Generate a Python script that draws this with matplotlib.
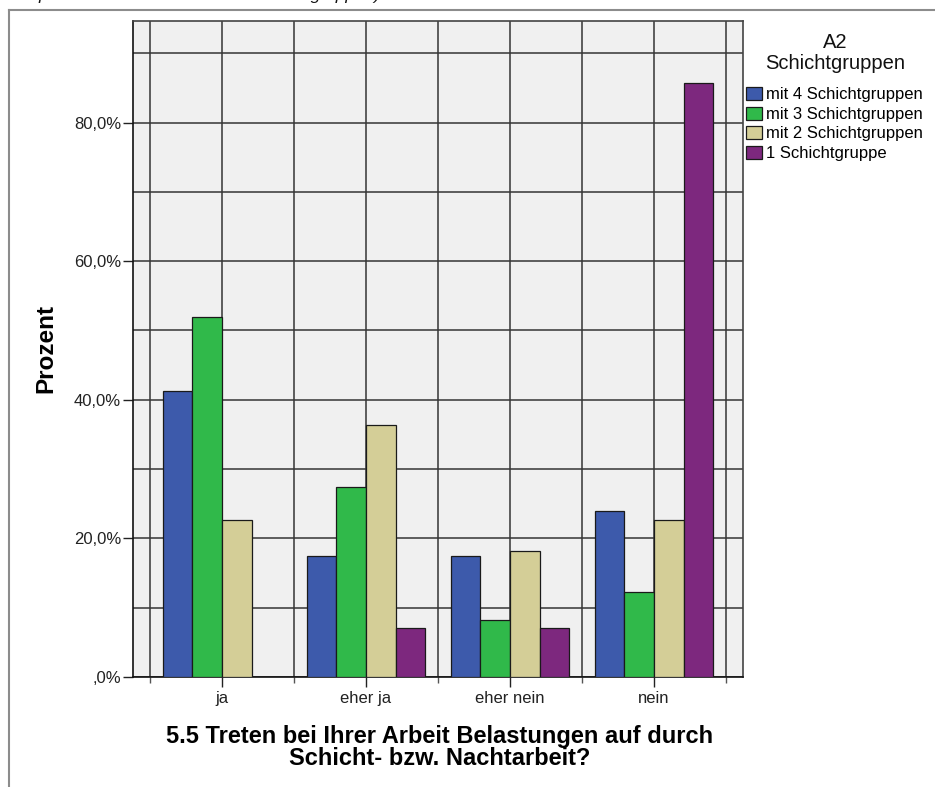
import matplotlib
matplotlib.use("Agg")
import matplotlib.pyplot as plt
from matplotlib.lines import Line2D
from matplotlib.patches import Patch
from matplotlib.ticker import FixedLocator, FuncFormatter
import numpy as np

plt.rcParams['font.family'] = ['Liberation Sans', 'DejaVu Sans']

# data (percent within each shift group)
categories = ["ja", "eher ja", "eher nein", "nein"]
groups = ["mit 4 Schichtgruppen", "mit 3 Schichtgruppen", "mit 2 Schichtgruppen", "1 Schichtgruppe"]
mit4 = [41.3, 17.4, 17.4, 23.9]
mit3 = [52.0, 27.4, 8.2, 12.3]
mit2 = [22.7, 36.4, 18.2, 22.7]
eine = [0.0, 7.1, 7.1, 85.7]
colors = ["#3d5aab", "#30b94a", "#d4ce97", "#7d287e"]

W, H = 935, 787
fig = plt.figure(figsize=(W / 100, H / 100), dpi=100)
fig.patch.set_facecolor("white")

# plot area in pixels: left 133, right 743, top 21, bottom 677
ax = fig.add_axes([133 / W, 1 - 677 / H, (743 - 133) / W, (677 - 21) / H])
ax.set_facecolor("#f0f0f0")

x = np.arange(len(categories))
bw = 0.205
for i, (vals, c, lab) in enumerate(zip([mit4, mit3, mit2, eine], colors, groups)):
    ax.bar(x + (i - 1.5) * bw, vals, width=bw, color=c, edgecolor="#1a1a1a",
           linewidth=0.9, label=lab, zorder=3)

ax.set_xlim(-0.618, 3.618)
ax.set_ylim(0, 94.65)

ax.yaxis.set_major_locator(FixedLocator([0, 20, 40, 60, 80]))
ax.yaxis.set_minor_locator(FixedLocator([10, 30, 50, 70, 90]))
def pct(v, pos):
    s = f"{v:.1f}".replace(".", ",")
    if s.startswith("0"):
        s = s[1:]
    return s + "%"
ax.yaxis.set_major_formatter(FuncFormatter(pct))

ax.set_xticks(x)
ax.set_xticklabels(categories)
ax.xaxis.set_minor_locator(FixedLocator(np.arange(-0.5, 3.6, 0.5)))

ax.set_axisbelow(True)
ax.grid(True, which="both", color="#353535", linewidth=1.1)

ax.tick_params(axis="y", which="major", length=7.2, width=1.0, color="#222222",
               labelsize=12, pad=1.4, labelcolor="#222222")
ax.tick_params(axis="y", which="minor", length=0)
ax.tick_params(axis="x", which="major", length=7.2, width=1.0, color="#222222",
               labelsize=12, pad=2.9, labelcolor="#222222")
ax.tick_params(axis="x", which="minor", length=4.3, width=1.0, color="#555555")

for side in ["top", "right"]:
    ax.spines[side].set_color("#444444")
    ax.spines[side].set_linewidth(1.2)
for side in ["left", "bottom"]:
    ax.spines[side].set_color("#111111")
    ax.spines[side].set_linewidth(1.2)

# axis titles
fig.text(46 / W, 1 - 349 / H, "Prozent", rotation=90, fontsize=17.5,
         fontweight="bold", ha="center", va="center")
fig.text(440 / W, 1 - 743 / H, "5.5 Treten bei Ihrer Arbeit Belastungen auf durch",
         fontsize=17, fontweight="bold", ha="center", va="baseline")
fig.text(440 / W, 1 - 765 / H, "Schicht- bzw. Nachtarbeit?",
         fontsize=17, fontweight="bold", ha="center", va="baseline")

# legend
fig.text(835 / W, 1 - 53 / H, "A2\nSchichtgruppen", fontsize=14.5,
         ha="center", va="center", linespacing=1.15, color="#111111")
handles = [Patch(facecolor=c, edgecolor="#1a1a1a", linewidth=0.9) for c in colors]
leg = fig.legend(handles, groups, loc="upper left", bbox_to_anchor=(746 / W, 1 - 87 / H),
                 frameon=False, fontsize=12, handlelength=0.96, handleheight=0.84,
                 handletextpad=0.24, labelspacing=0.25, borderaxespad=0, borderpad=0)

# outer frame of the output window
fig.add_artist(Line2D([9 / W, 9 / W], [0, 1 - 10 / H], transform=fig.transFigure,
                      color="#8c8c8c", linewidth=1.5))
fig.add_artist(Line2D([9 / W, 1], [1 - 10 / H, 1 - 10 / H], transform=fig.transFigure,
                      color="#8c8c8c", linewidth=1.5))

# caption cut off at the top edge (as in the source screenshot)
fig.text(38 / W, 1 + 0.5 / H, "prozentual nach Anzahl der Schichtgruppen)", fontsize=12.5,
         style="italic", va="baseline", ha="left", color="#111111")

fig.savefig("out.png", dpi=100, facecolor="white")
